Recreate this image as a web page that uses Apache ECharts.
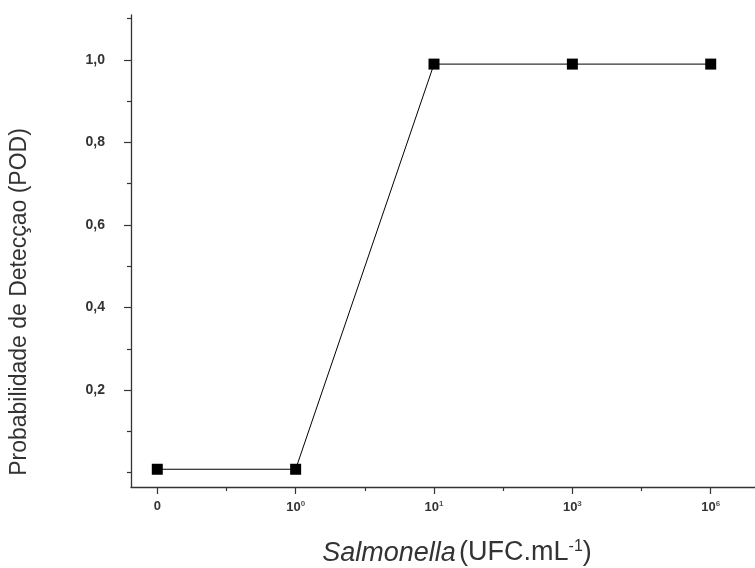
<!DOCTYPE html>
<html><head><meta charset="utf-8">
<script src="https://cdn.jsdelivr.net/npm/echarts@6/dist/echarts.min.js"></script>
<style>html,body{margin:0;padding:0;background:#fff}#c{width:755px;height:568px}</style>
</head><body><div id="c"></div>
<script>
const categories = ['0', '10^0', '10^1', '10^3', '10^6'];
const xPositions = [0, 1, 2, 3, 4];
const xMinorTicks = [0.5, 1.5, 2.5, 3.5];
const podValues = [0.008, 0.008, 0.99, 0.99, 0.99];
const yTicks = [0.2, 0.4, 0.6, 0.8, 1.0];
const yMinorTicks = [0, 0.1, 0.3, 0.5, 0.7, 0.9, 1.1];

const chart = echarts.init(document.getElementById('c'));
const data = xPositions.map((x, i) => [x, podValues[i]]);
const labelFont = 'Liberation Sans, Arial, sans-serif';
const axisColor = '#333';
const X_MIN = -0.19, X_MAX = 4.32, Y_MIN = -0.035, Y_MAX = 1.109;

chart.setOption({
  animation: false,
  grid: { left: 131, right: 0, top: 15, bottom: 81, containLabel: false },
  xAxis: [{
    type: 'value', min: X_MIN, max: X_MAX,
    axisLine: { show: true, onZero: false, lineStyle: { color: axisColor, width: 1.3 } },
    axisTick: { show: true, inside: false, length: 7, lineStyle: { color: axisColor, width: 1.2 }, customValues: xPositions },
    splitLine: { show: false },
    axisLabel: {
      margin: 13, color: '#333', fontFamily: labelFont, fontSize: 13, fontWeight: 'bold',
      customValues: xPositions,
      formatter: function (v) {
        const idx = xPositions.indexOf(Math.round(v));
        if (idx < 0) return '';
        const c = categories[idx];
        if (c.indexOf('^') < 0) return c;
        const p = c.split('^');
        return '{b|' + p[0] + '}{s|' + p[1] + '}';
      },
      rich: {
        b: { fontSize: 13, fontWeight: 'bold', color: '#333', fontFamily: labelFont },
        s: { fontSize: 8, fontWeight: 'bold', color: '#555', fontFamily: labelFont, verticalAlign: 'top', padding: [0, 0, 7, 0] }
      }
    }
  }, {
    type: 'value', min: X_MIN, max: X_MAX, position: 'bottom',
    axisLine: { show: false, onZero: false },
    axisTick: { show: true, inside: false, length: 4, lineStyle: { color: axisColor, width: 1.2 }, customValues: xMinorTicks },
    axisLabel: { show: false },
    splitLine: { show: false }
  }],
  yAxis: [{
    type: 'value', min: Y_MIN, max: Y_MAX,
    axisLine: { show: true, onZero: false, lineStyle: { color: axisColor, width: 1.3 } },
    axisTick: { show: true, inside: false, length: 7, lineStyle: { color: axisColor, width: 1.2 }, customValues: yTicks },
    splitLine: { show: false },
    axisLabel: {
      margin: 26, color: '#333', fontFamily: labelFont, fontSize: 14, fontWeight: 'bold',
      customValues: yTicks,
      formatter: v => v.toFixed(1).replace('.', ',')
    }
  }, {
    type: 'value', min: Y_MIN, max: Y_MAX, position: 'left',
    axisLine: { show: false, onZero: false },
    axisTick: { show: true, inside: false, length: 4, lineStyle: { color: axisColor, width: 1.2 }, customValues: yMinorTicks },
    axisLabel: { show: false },
    splitLine: { show: false }
  }],
  graphic: [
    {
      type: 'text', x: 457, y: 553, silent: true,
      style: {
        text: '{i|Salmonella} {n|(UFC.mL}{s|-1}{n|)}',
        align: 'center', verticalAlign: 'middle',
        rich: {
          i: { fontStyle: 'italic', fontSize: 27, fontFamily: labelFont, fill: '#333' },
          n: { fontSize: 27, fontFamily: labelFont, fill: '#333' },
          s: { fontSize: 16, fontFamily: labelFont, fill: '#333', verticalAlign: 'top', padding: [0, 0, 13, 0] }
        }
      }
    },
    {
      type: 'text', x: 20, y: 302, rotation: Math.PI / 2, silent: true,
      style: {
        text: 'Probabilidade de Detecçao (POD)',
        align: 'center', verticalAlign: 'middle',
        fontSize: 23, fontFamily: labelFont, fill: '#333'
      }
    }
  ],
  series: [{
    type: 'line', data: data,
    symbol: 'rect', symbolSize: 11,
    itemStyle: { color: '#000' },
    lineStyle: { color: '#000', width: 1 }
  }]
});
</script></body></html>
